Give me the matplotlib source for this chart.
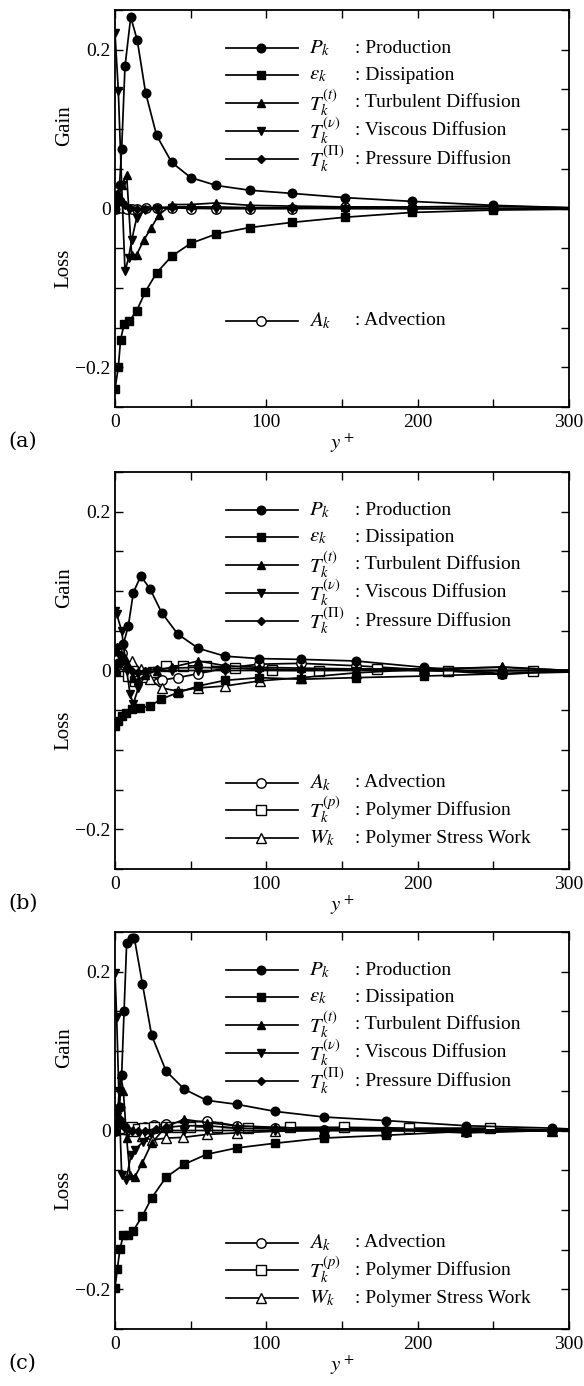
import matplotlib
matplotlib.use("Agg")
import matplotlib.pyplot as plt
from matplotlib.lines import Line2D
from matplotlib.ticker import MultipleLocator, FixedLocator

plt.rcParams['font.family'] = ['Liberation Serif', 'DejaVu Serif']
plt.rcParams['mathtext.fontset'] = 'stix'

# ---------------- data: panel (a) ----------------
a_P_x = [0, 1.5, 3, 4.4, 6.6, 10.4, 14.7, 20.2, 27.5, 37.5, 50, 67, 89, 117, 152, 196, 250, 300]
a_P = [0, 0.008, 0.03, 0.075, 0.179, 0.241, 0.212, 0.146, 0.092, 0.058, 0.039, 0.029, 0.023, 0.019, 0.0137, 0.009, 0.004, 0.001]
a_E_x = [0, 2.2, 3.7, 6, 9.3, 14.3, 20, 27.5, 37.5, 50, 67, 89, 117, 152, 196, 250, 300]
a_E = [-0.227, -0.2, -0.165, -0.146, -0.142, -0.129, -0.105, -0.081, -0.060, -0.044, -0.032, -0.024, -0.0175, -0.011, -0.005, -0.002, -0.001]
a_Tt_x = [0, 2.2, 4.4, 7.7, 11, 14.3, 19, 24, 29, 37.5, 50, 67, 89, 117, 152, 196, 250, 300]
a_Tt = [0, 0.012, 0.03, 0.042, -0.058, -0.058, -0.04, -0.024, -0.008, 0.005, 0.005, 0.007, 0.004, 0.003, 0.002, 0.002, 0.003, 0.001]
a_Tv_x = [0, 2.2, 4.4, 6.6, 9, 11, 14.3, 20, 27.5, 37.5, 50, 67, 89, 117, 152, 196, 250, 300]
a_Tv = [0.221, 0.148, 0.03, -0.079, -0.062, -0.04, -0.012, -0.002, 0.0, 0.001, 0.001, 0.0, 0.0, 0.0, 0.0, 0.0, 0.0, 0.0]
a_Tpi_x = [0, 1.5, 3, 4.4, 6.6, 10, 14.3, 20, 27.5, 37.5, 50, 67, 89, 117, 152, 196, 250, 300]
a_Tpi = [0.012, 0.018, 0.012, 0.008, 0.004, 0.001, 0.0, 0.0, 0.001, 0.002, 0.002, 0.002, 0.001, 0.001, 0.0, 0.0, 0.0, 0.0]
a_A_x = [0, 1.1, 4.4, 7.7, 11, 14.7, 20.2, 27.5, 37.5, 50, 67, 89, 117, 152, 196, 250, 300]
a_A = [0, 0.001, 0.001, 0.0, -0.001, 0.0, 0.001, 0.001, 0.001, 0.0, 0.0, 0.0, 0.0, 0.002, 0.0, 0.0, 0.0]

# ---------------- data: panel (b) ----------------
b_P_x = [0, 2.2, 5.5, 8.8, 12.1, 17, 23.1, 30.8, 41.4, 55, 72.7, 95.4, 123, 159, 204, 256, 300]
b_P = [0, 0.01, 0.033, 0.056, 0.098, 0.119, 0.103, 0.073, 0.046, 0.028, 0.018, 0.015, 0.014, 0.012, 0.004, -0.004, 0.0]
b_E_x = [0, 2.2, 4.4, 7.3, 11, 16.5, 23.1, 30.4, 41.4, 55, 72.7, 95.4, 123, 159, 204, 256, 300]
b_E = [-0.070, -0.064, -0.057, -0.053, -0.049, -0.047, -0.045, -0.036, -0.028, -0.0195, -0.0124, -0.009, -0.011, -0.009, -0.007, -0.004, -0.002]
b_Tt_x = [0, 2.2, 4.4, 6.6, 9, 12, 15, 20, 27.5, 37.5, 55, 72.7, 95.4, 123, 159, 204, 256, 300]
b_Tt = [0, 0.01, 0.02, 0.016, 0.005, -0.01, -0.012, -0.006, 0.0, 0.004, 0.012, 0.006, 0.004, 0.003, 0.002, 0.002, 0.004, 0.0]
b_Tv_x = [0, 1.1, 4.4, 7.7, 10, 12.1, 15.4, 21, 27.5, 37.5, 55, 72.7, 95.4, 123, 159, 204, 256, 300]
b_Tv = [0.075, 0.071, 0.05, 0.0, -0.03, -0.042, -0.022, -0.002, 0.0, 0.0, 0.0, 0.0, 0.0, 0.0, 0.0, 0.0, 0.0, 0.0]
b_Tpi_x = [0, 1.1, 3, 5, 7.7, 11, 15, 20, 27.5, 37.5, 55, 72.7, 95.4, 123, 159, 204, 256, 300]
b_Tpi = [0.025, 0.029, 0.02, 0.012, 0.005, 0.0, -0.002, 0.0, 0.002, 0.003, 0.004, 0.003, 0.002, 0.001, 0.001, 0.0, 0.0, 0.0]
b_A_x = [0, 2.2, 4.4, 7.7, 12, 17, 23.1, 30.8, 41.4, 55, 72.7, 95.4, 123, 159, 204, 256, 300]
b_A = [0, 0.015, 0.022, 0.006, -0.01, -0.008, -0.009, -0.012, -0.009, -0.004, 0.003, 0.008, 0.009, 0.006, 0.001, -0.005, 0.0]
b_Tpol_x = [0, 2.2, 4.4, 6.6, 8.8, 13.2, 19, 25, 34, 45, 60, 79, 103.5, 135, 173, 220, 276.5, 300]
b_Tpol = [0, 0.002, 0.003, 0.0, -0.007, -0.013, -0.008, -0.002, 0.0057, 0.006, 0.0057, 0.0035, 0.0002, 0.0, 0.0015, -0.0006, 0.0, 0.0]
b_W_x = [0, 2.2, 6.6, 11, 17, 23, 30.8, 41.4, 55, 72.7, 96, 123, 159, 204, 256, 300]
b_W = [0.004, 0.006, 0.008, 0.012, 0.0015, -0.011, -0.022, -0.026, -0.022, -0.0195, -0.013, -0.009, -0.003, 0.0015, 0.0045, 0.0]

# ---------------- data: panel (c) ----------------
c_P_x = [0, 1.5, 3, 4.4, 6, 7.7, 11, 12.8, 18.1, 24.2, 33.7, 45.8, 60.6, 80.4, 106, 138, 179, 232, 288.6, 300]
c_P = [0, 0.01, 0.03, 0.07, 0.151, 0.236, 0.242, 0.242, 0.185, 0.12, 0.075, 0.052, 0.038, 0.033, 0.024, 0.017, 0.0125, 0.006, 0.003, 0.002]
c_E_x = [0, 1.5, 3.3, 5.5, 8.8, 12.1, 18, 24.2, 33.7, 45.8, 60.6, 80.4, 106, 138, 179, 232, 288.6, 300]
c_E = [-0.198, -0.175, -0.149, -0.132, -0.132, -0.126, -0.108, -0.085, -0.059, -0.0425, -0.03, -0.022, -0.016, -0.0095, -0.006, -0.001, 0.0, 0.0]
c_Tt_x = [0, 2, 3.7, 5.5, 7.7, 9.9, 13.2, 18, 24.2, 33.7, 45.8, 60.6, 80.4, 106, 138, 179, 232, 288.6, 300]
c_Tt = [0, 0.03, 0.071, 0.05, -0.01, -0.056, -0.058, -0.041, -0.016, 0.005, 0.014, 0.01, 0.006, 0.004, 0.002, 0.002, 0.001, 0.0, 0.0]
c_Tv_x = [0, 1.1, 2.5, 4.4, 7.3, 10.6, 13.2, 18.7, 24, 33.7, 45.8, 60.6, 80.4, 106, 138, 179, 232, 288.6, 300]
c_Tv = [0.198, 0.143, 0.05, -0.056, -0.0625, -0.031, -0.024, -0.014, -0.005, 0.0, 0.0, 0.0, 0.0, 0.0, 0.0, 0.0, 0.0, 0.0, 0.0]
c_Tpi_x = [0, 1.5, 3, 4.4, 6, 8, 11, 15, 20, 27, 34, 46, 60.6, 80.4, 106, 138, 179, 232, 288.6, 300]
c_Tpi = [0.028, 0.022, 0.015, 0.01, 0.005, 0.002, 0.0, -0.001, 0.0, 0.002, 0.004, 0.006, 0.006, 0.003, 0.002, 0.001, 0.001, -0.003, 0.0, 0.0]
c_A_x = [0, 2, 4.4, 7.7, 11, 15, 20, 26, 34, 45.8, 60.6, 80.4, 106, 138, 179, 232, 288.6, 300]
c_A = [0.0, 0.004, 0.006, 0.004, 0.002, 0.003, 0.005, 0.007, 0.008, 0.01, 0.012, 0.006, 0.003, 0.001, 0.0, -0.002, 0.0, 0.0]
c_Tpol_x = [0, 3, 6, 11, 15, 19.4, 26, 34, 41, 49.6, 67.2, 88, 115.7, 151, 194, 248, 300]
c_Tpol = [0.003, 0.003, 0.002, 0.004, 0.002, 0.003, 0.005, 0.005, 0.005, 0.005, 0.004, 0.003, 0.004, 0.004, 0.003, 0.003, 0.0]
c_W_x = [0, 2.5, 5.5, 8.8, 12, 17.6, 24.2, 34, 45, 60.6, 80.4, 106, 138, 179, 232, 288.6, 300]
c_W = [0.005, 0.004, 0.003, 0.002, -0.001, -0.0075, -0.012, -0.0095, -0.0087, -0.005, -0.003, -0.001, 0.0, 0.0, 0.0, 0.0, 0.0]

x_ticks = [0, 100, 200, 300]
y_ticks = [-0.2, 0, 0.2]
y_tick_labels = ['\u22120.2', '0', '0.2']
panel_labels = ['(a)', '(b)', '(c)']

names = {
    'P': ('$P_k$', ': Production'),
    'E': ('$\\varepsilon_k$', ': Dissipation'),
    'Tt': ('$T_k^{(t)}$', ': Turbulent Diffusion'),
    'Tv': ('$T_k^{(\\nu)}$', ': Viscous Diffusion'),
    'Tpi': ('$T_k^{(\\Pi)}$', ': Pressure Diffusion'),
    'A': ('$A_k$', ': Advection'),
    'Tpol': ('$T_k^{(p)}$', ': Polymer Diffusion'),
    'W': ('$W_k$', ': Polymer Stress Work'),
}
styles = {
    'P': dict(marker='o', ms=6.2, mfc='black'),
    'E': dict(marker='s', ms=5.6, mfc='black'),
    'Tt': dict(marker='^', ms=6.0, mfc='black'),
    'Tv': dict(marker='v', ms=6.0, mfc='black'),
    'Tpi': dict(marker='D', ms=4.0, mfc='black'),
    'A': dict(marker='o', ms=6.8, mfc='white'),
    'Tpol': dict(marker='s', ms=6.8, mfc='white'),
    'W': dict(marker='^', ms=7.0, mfc='white'),
}

panels = [
    {'P': (a_P_x, a_P), 'E': (a_E_x, a_E), 'Tt': (a_Tt_x, a_Tt), 'Tv': (a_Tv_x, a_Tv),
     'Tpi': (a_Tpi_x, a_Tpi), 'A': (a_A_x, a_A)},
    {'P': (b_P_x, b_P), 'E': (b_E_x, b_E), 'Tt': (b_Tt_x, b_Tt), 'Tv': (b_Tv_x, b_Tv),
     'Tpi': (b_Tpi_x, b_Tpi), 'A': (b_A_x, b_A), 'Tpol': (b_Tpol_x, b_Tpol), 'W': (b_W_x, b_W)},
    {'P': (c_P_x, c_P), 'E': (c_E_x, c_E), 'Tt': (c_Tt_x, c_Tt), 'Tv': (c_Tv_x, c_Tv),
     'Tpi': (c_Tpi_x, c_Tpi), 'A': (c_A_x, c_A), 'Tpol': (c_Tpol_x, c_Tpol), 'W': (c_W_x, c_W)},
]

fig = plt.figure(figsize=(5.84, 13.86), dpi=100)
W, H = 584.0, 1386.0
ax_left, ax_right = 115, 569
tops = [10, 472, 932]
ax_h = 397
FS = 14

top_rows = [0.904, 0.836, 0.767, 0.696, 0.624]
bot_rows = [0.217, 0.148, 0.078]

for i, (data, top) in enumerate(zip(panels, tops)):
    ax = fig.add_axes([ax_left / W, 1 - (top + ax_h) / H, (ax_right - ax_left) / W, ax_h / H])
    order = ['A', 'Tpol', 'W', 'Tpi', 'Tt', 'Tv', 'E', 'P']
    for key in order:
        if key not in data:
            continue
        xs, ys = data[key]
        st = styles[key]
        me = slice(0, len(xs) - 1) if xs[-1] >= 300 else None
        ax.plot(xs, ys, color='black', lw=1.25, marker=st['marker'], ms=st['ms'],
                mfc=st['mfc'], mec='black', mew=1.0, markevery=me, zorder=3, clip_on=True)
    ax.set_xlim(0, 300)
    ax.set_ylim(-0.25, 0.25)
    ax.xaxis.set_major_locator(FixedLocator(x_ticks))
    ax.xaxis.set_minor_locator(MultipleLocator(50))
    ax.yaxis.set_major_locator(FixedLocator(y_ticks))
    ax.set_yticklabels(y_tick_labels)
    ax.yaxis.set_minor_locator(MultipleLocator(0.05))
    ax.tick_params(which='both', direction='in', top=True, right=True, length=6, width=1.0,
                   labelsize=FS)
    ax.tick_params(axis='y', which='major', pad=3)
    ax.tick_params(axis='x', which='major', pad=5)
    for sp in ax.spines.values():
        sp.set_linewidth(1.3)
    ax.set_xlabel('$y^+$', fontsize=FS + 1, labelpad=0)
    ax.text(-0.112, 0.71, 'Gain', rotation=90, ha='center', va='center', fontsize=FS + 1,
            transform=ax.transAxes)
    ax.text(-0.112, 0.35, 'Loss', rotation=90, ha='center', va='center', fontsize=FS + 1,
            transform=ax.transAxes)
    fig.text(8 / W, 1 - (top + ax_h + 34) / H, panel_labels[i], fontsize=FS + 1,
             ha='left', va='center', family=['DejaVu Serif'])

    # legend
    entries = [(k, top_rows[j]) for j, k in enumerate(['P', 'E', 'Tt', 'Tv', 'Tpi'])]
    if i == 0:
        entries.append(('A', bot_rows[0]))
    else:
        entries += [(k, bot_rows[j]) for j, k in enumerate(['A', 'Tpol', 'W'])]
    for key, yy in entries:
        st = styles[key]
        ax.add_line(Line2D([0.245, 0.403], [yy, yy], color='black', lw=1.25,
                           transform=ax.transAxes, zorder=4))
        ax.add_line(Line2D([0.322], [yy], color='black', lw=0, marker=st['marker'],
                           ms=st['ms'], mfc=st['mfc'], mec='black', mew=1.0,
                           transform=ax.transAxes, zorder=5))
        sym, desc = names[key]
        ax.text(0.428, yy, sym, fontsize=FS + 1, ha='left', va='center', transform=ax.transAxes)
        ax.text(0.528, yy, desc, fontsize=FS, ha='left', va='center', transform=ax.transAxes)

fig.savefig('out.png', dpi=100)
